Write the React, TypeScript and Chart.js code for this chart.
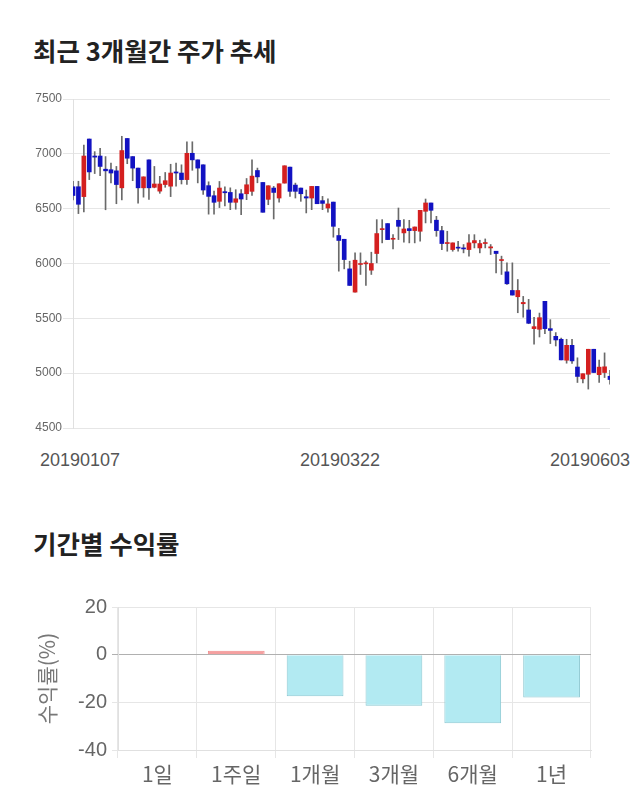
import React, { useEffect, useRef } from 'react';
import { Chart, registerables } from 'chart.js';

Chart.register(...registerables);

// ---------- Top chart: daily candles ----------
const dates = [
  '20190107','20190108','20190109','20190110','20190111','20190114','20190115','20190116','20190117','20190118',
  '20190121','20190122','20190123','20190124','20190125','20190128','20190129','20190130','20190131','20190201',
  '20190207','20190208','20190211','20190212','20190213','20190214','20190215','20190218','20190219','20190220',
  '20190221','20190222','20190225','20190226','20190227','20190228','20190304','20190305','20190306','20190307',
  '20190308','20190311','20190312','20190313','20190314','20190315','20190318','20190319','20190320','20190321',
  '20190322','20190325','20190326','20190327','20190328','20190329','20190401','20190402','20190403','20190404',
  '20190405','20190408','20190409','20190410','20190411','20190412','20190415','20190416','20190417','20190418',
  '20190419','20190422','20190423','20190424','20190425','20190426','20190429','20190430','20190502','20190503',
  '20190507','20190508','20190509','20190510','20190513','20190514','20190515','20190516','20190517','20190520',
  '20190521','20190522','20190523','20190524','20190527','20190528','20190529','20190530','20190531','20190603',
];

const opens = [
  6700,6700,6610,7135,6980,6980,6860,6855,6845,6690,
  7140,6975,6870,6690,6945,6695,6660,6720,6705,6835,
  6825,6765,7005,6945,6900,6710,6618,6567,6655,6648,
  6558,6636,6636,6658,6848,6739,6585,6688,6597,6733,
  6879,6715,6688,6609,6597,6703,6573,6506,6560,6255,
  6221,5951,5739,5991,5997,5939,6091,6309,6364,6221,
  6394,6279,6318,6300,6294,6476,6552,6395,6300,6182,
  6127,6145,6142,6127,6188,6142,6182,6142,6112,6027,
  5924,5754,5697,5633,5576,5406,5400,5655,5406,5336,
  5309,5118,5254,5056,4948,4990,5218,4986,5006,4972,
];

const highs = [
  6750,6750,7080,7135,7020,7050,6975,6915,6885,7160,
  7140,6975,6870,6790,6945,6885,6795,6830,6905,6915,
  6900,7110,7110,6945,6900,6745,6660,6748,6700,6690,
  6673,6673,6775,6945,6870,6739,6709,6703,6727,6891,
  6879,6733,6688,6670,6703,6703,6612,6590,6560,6320,
  6221,6021,6097,6097,6021,6103,6400,6400,6364,6263,
  6506,6400,6394,6333,6485,6588,6552,6430,6339,6294,
  6188,6203,6173,6263,6263,6212,6224,6173,6112,6067,
  6006,6006,5854,5700,5673,5510,5548,5655,5488,5370,
  5320,5309,5309,5140,4995,5218,5218,5120,5185,5025,
];

const lows = [
  6580,6455,6470,6765,6820,6800,6490,6735,6545,6580,
  6910,6755,6550,6605,6585,6690,6640,6695,6610,6705,
  6725,6720,6850,6735,6630,6450,6450,6510,6525,6491,
  6495,6445,6582,6620,6736,6467,6536,6406,6560,6733,
  6612,6597,6567,6461,6491,6545,6491,6468,6240,5930,
  5951,5800,5739,5900,5800,5900,6006,6188,6218,6133,
  6218,6194,6188,6188,6203,6370,6370,6248,6127,6112,
  6112,6112,6097,6067,6142,6097,6142,6082,5915,5900,
  5809,5712,5551,5510,5451,5264,5330,5360,5270,5248,
  5121,5091,5090,4915,4910,4855,5006,4915,4960,4900,
];

const closes = [
  6620,6540,6980,6835,6970,6885,6845,6825,6720,7030,
  6960,6870,6690,6790,6690,6725,6725,6755,6825,6825,
  6765,7005,6945,6870,6670,6612,6558,6688,6645,6558,
  6590,6588,6718,6797,6790,6467,6709,6648,6727,6891,
  6658,6658,6636,6597,6703,6545,6548,6543,6339,6210,
  6036,5800,6030,6000,6006,6000,6273,6318,6218,6230,
  6339,6315,6300,6333,6485,6552,6485,6300,6182,6188,
  6188,6140,6133,6188,6209,6182,6191,6152,6091,6036,
  5815,5712,5754,5645,5455,5424,5506,5406,5390,5303,
  5121,5254,5112,4970,4995,5218,5006,5055,5058,4942,
];

const priceMin = 4500;
const priceMax = 7500;
const priceStep = 500;
const xTickLabels = ['20190107', '20190322', '20190603'];

// ---------- Bottom chart: period returns ----------
const periods = ['1일', '1주일', '1개월', '3개월', '6개월', '1년'];
const returns = [0, 1.6, -17.4, -21.4, -28.8, -18.0];
const returnMin = -40;
const returnMax = 20;
const returnStep = 20;

const UP = '#d41f1f';
const DOWN = '#1212c2';
const WICK = '#6a6a6a';
const FONT = "'Liberation Sans', 'Noto Sans CJK KR', sans-serif";
const KFONT = "'Noto Sans CJK KR', 'Liberation Sans', sans-serif";

function CandleChart() {
  const ref = useRef<HTMLCanvasElement | null>(null);
  useEffect(() => {
    if (!ref.current) return;
    const bodyColors = opens.map((o, i) => (closes[i] >= o ? UP : DOWN));
    const chart = new Chart(ref.current, {
      type: 'bar',
      data: {
        labels: dates,
        datasets: [
          {
            label: 'body',
            data: opens.map((o, i) => [o, closes[i]]) as any,
            backgroundColor: bodyColors,
            borderWidth: 0,
            barThickness: 4,
            minBarLength: 1,
            grouped: false,
            clip: 0,
            order: 0,
          } as any,
          {
            label: 'wick',
            data: lows.map((l, i) => [l, highs[i]]) as any,
            backgroundColor: WICK,
            borderWidth: 0,
            barThickness: 1,
            grouped: false,
            clip: 0,
            order: 1,
          } as any,
        ],
      },
      options: {
        animation: false,
        responsive: false,
        layout: { padding: { top: 14, bottom: 12, left: 0, right: 22 } },
        plugins: { legend: { display: false }, tooltip: { enabled: false } },
        scales: {
          x: { display: false, offset: false, grid: { display: false } },
          y: {
            min: priceMin,
            max: priceMax,
            ticks: {
              stepSize: priceStep,
              color: '#666',
              font: { size: 12, family: FONT },
              padding: 1,
              callback: (v: any) => String(v),
            },
            grid: { color: '#e6e6e6', tickLength: 10 },
            border: { color: '#e0e0e0' },
            afterFit: (s: any) => { s.width = 65; },
          },
        },
      } as any,
    });
    return () => chart.destroy();
  }, []);
  return <canvas ref={ref} width={624} height={355} />;
}

function ReturnChart() {
  const ref = useRef<HTMLCanvasElement | null>(null);
  useEffect(() => {
    if (!ref.current) return;
    const chart = new Chart(ref.current, {
      type: 'bar',
      data: {
        labels: periods,
        datasets: [
          {
            label: '수익률',
            data: returns,
            backgroundColor: returns.map((v) => (v >= 0 ? 'rgba(245,160,160,1)' : 'rgba(178,234,242,1)')),
            borderColor: returns.map((v) => (v >= 0 ? 'rgba(240,140,140,1)' : 'rgba(140,200,210,1)')),
            borderWidth: 1,
          },
        ],
      },
      options: {
        animation: false,
        responsive: false,
        layout: { padding: { top: 13, bottom: 0, left: 0, right: 41 } },
        plugins: { legend: { display: false }, tooltip: { enabled: false } },
        scales: {
          x: {
            grid: { color: '#e6e6e6', tickLength: 8 },
            border: { color: '#e0e0e0' },
            ticks: { color: '#666', font: { size: 21, family: KFONT }, padding: 3 },
            afterFit: (s: any) => { s.height = 45; },
          },
          y: {
            min: returnMin,
            max: returnMax,
            ticks: { stepSize: returnStep, color: '#666', font: { size: 20, family: FONT }, padding: 5 },
            grid: {
              color: (c: any) => (c.tick && c.tick.value === 0 ? '#b0b0b0' : '#e6e6e6'),
              tickLength: 6,
            },
            border: { color: '#e0e0e0' },
            title: {
              display: true,
              text: '수익률(%)',
              color: '#777',
              font: { size: 21, family: KFONT },
              padding: { top: 26, bottom: 0 },
            },
            afterFit: (s: any) => { s.width = 110; },
          },
        },
      } as any,
    });
    return () => chart.destroy();
  }, []);
  return <canvas ref={ref} width={624} height={205} />;
}

export default function App() {
  const titleStyle: React.CSSProperties = {
    position: 'absolute',
    left: 25,
    fontFamily: KFONT,
    fontWeight: 700,
    fontSize: 25.5,
    lineHeight: '30px',
    color: '#222',
    whiteSpace: 'nowrap',
  };
  const xLabelStyle: React.CSSProperties = {
    position: 'absolute',
    top: 441,
    fontFamily: FONT,
    fontSize: 18,
    lineHeight: '22px',
    color: '#555',
    whiteSpace: 'nowrap',
  };
  return (
    <div style={{ position: 'relative', width: 624, height: 794 }}>
      <div style={{ ...titleStyle, top: 27 }}>최근 3개월간 주가 추세</div>
      <div style={{ position: 'absolute', left: 0, top: 77 }}>
        <CandleChart />
      </div>
      <div style={{ ...xLabelStyle, left: 32 }}>{xTickLabels[0]}</div>
      <div style={{ ...xLabelStyle, left: 332, transform: 'translateX(-50%)' }}>{xTickLabels[1]}</div>
      <div style={{ ...xLabelStyle, right: 2 }}>{xTickLabels[2]}</div>
      <div style={{ ...titleStyle, top: 520 }}>기간별 수익률</div>
      <div style={{ position: 'absolute', left: 0, top: 582 }}>
        <ReturnChart />
      </div>
    </div>
  );
}
